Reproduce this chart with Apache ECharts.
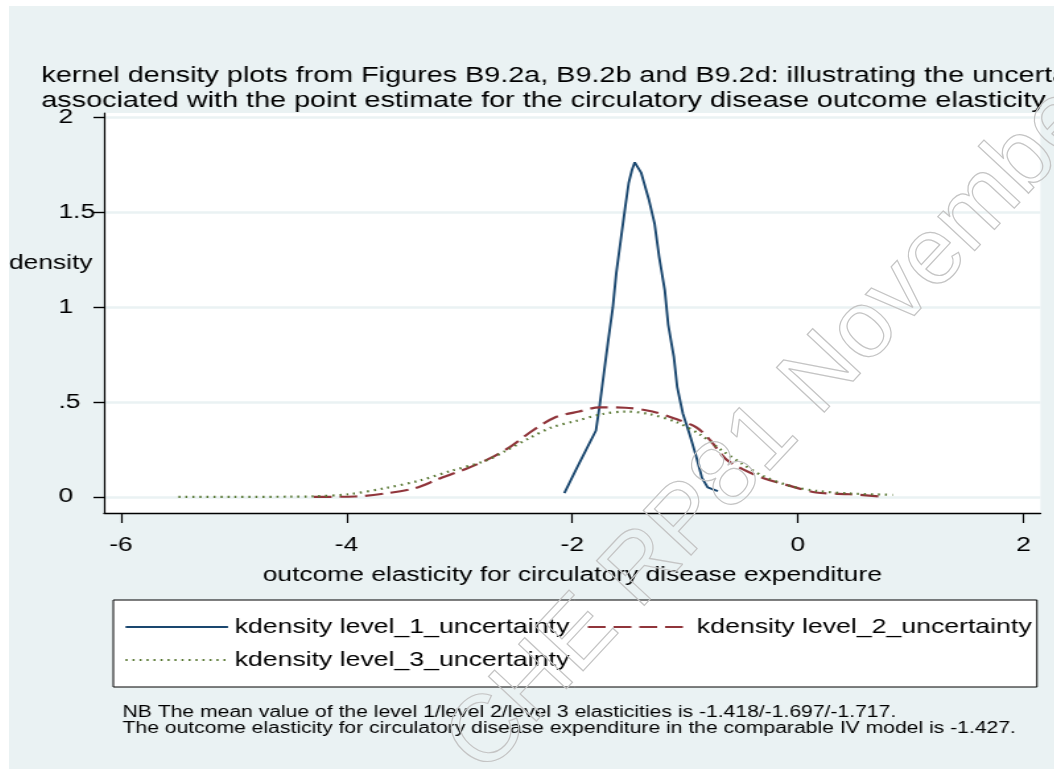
<!DOCTYPE html>
<html>
<head>
<meta charset="utf-8">
<script src="https://cdn.jsdelivr.net/npm/echarts@6/dist/echarts.min.js"></script>
<style>
html, body { margin: 0; padding: 0; background: #fff; overflow: hidden; }
/* the source figure is a Stata graph stretched sideways, so draw narrow and widen */
#chart { position: absolute; left: 9px; top: 6px; width: 792px; height: 763px;
         transform: scaleX(1.32); transform-origin: 0 0; }
#mark { position: absolute; left: 0; top: 0; width: 1054px; height: 769px; pointer-events: none; }
</style>
</head>
<body>
<div id="chart"></div>
<div id="mark"></div>
<script>
// kernel density curves: [elasticity, density]
var level1 = [
    [-2.07, 0.02], [-1.97, 0.14], [-1.88, 0.245], [-1.79, 0.35], [-1.76, 0.47],
    [-1.72, 0.65], [-1.68, 0.83], [-1.64, 1.00], [-1.61, 1.18], [-1.57, 1.355],
    [-1.53, 1.53], [-1.50, 1.655], [-1.47, 1.725], [-1.446, 1.764], [-1.39, 1.71],
    [-1.32, 1.565], [-1.27, 1.44], [-1.23, 1.265], [-1.18, 1.09], [-1.15, 0.91],
    [-1.10, 0.74], [-1.07, 0.58], [-1.02, 0.44], [-0.96, 0.33], [-0.90, 0.21],
    [-0.85, 0.10], [-0.80, 0.05], [-0.71, 0.03]
];
var level2 = [
    [-4.29, 0.0], [-3.93, 0.002], [-3.66, 0.018], [-3.39, 0.046], [-3.19, 0.093],
    [-2.95, 0.146], [-2.74, 0.20], [-2.56, 0.26], [-2.35, 0.35], [-2.15, 0.42],
    [-1.94, 0.45], [-1.76, 0.472], [-1.53, 0.47], [-1.29, 0.45], [-1.08, 0.41],
    [-0.90, 0.367], [-0.78, 0.30], [-0.64, 0.20], [-0.49, 0.146], [-0.31, 0.10],
    [-0.07, 0.058], [0.16, 0.023], [0.46, 0.014], [0.73, 0.002]
];
var level3 = [
    [-5.49, 0.0], [-5.0, 0.0], [-4.5, 0.001], [-4.28, 0.003], [-3.98, 0.014],
    [-3.66, 0.046], [-3.36, 0.085], [-3.07, 0.138], [-2.77, 0.19], [-2.59, 0.243],
    [-2.38, 0.31], [-2.18, 0.367], [-1.97, 0.40], [-1.73, 0.437], [-1.53, 0.45],
    [-1.32, 0.437], [-1.08, 0.395], [-0.87, 0.33], [-0.67, 0.243], [-0.49, 0.173],
    [-0.31, 0.11], [-0.07, 0.058], [0.16, 0.032], [0.46, 0.018], [0.84, 0.011]
];
var seriesNames = ['kdensity level_1_uncertainty', 'kdensity level_2_uncertainty', 'kdensity level_3_uncertainty'];
var xTicks = [-6, -4, -2, 0, 2];
var yTicks = [0, 0.5, 1, 1.5, 2];
var titleLines = [
    'kernel density plots from Figures B9.2a, B9.2b and B9.2d: illustrating the uncertainty',
    'associated with the point estimate for the circulatory disease outcome elasticity'
];
var noteLines = [
    'NB The mean value of the level 1/level 2/level 3 elasticities is -1.418/-1.697/-1.717.',
    'The outcome elasticity for circulatory disease expenditure in the comparable IV model is -1.427.'
];

var font = 'Liberation Sans, Arial, sans-serif';
var myChart = echarts.init(document.getElementById('chart'));
option = {
    animation: false,
    backgroundColor: '#eaf2f3',
    textStyle: { fontFamily: font, color: '#000' },
    title: [
        {
            text: titleLines.join('\n'),
            left: 19.5, top: 52,
            textStyle: { fontSize: 21.8, fontWeight: 'normal', color: '#000', lineHeight: 25, fontFamily: font }
        },
        {
            text: noteLines.join('\n'),
            left: 81, top: 694,
            textStyle: { fontSize: 16, fontWeight: 'normal', color: '#000', lineHeight: 16, fontFamily: font }
        }
    ],
    grid: {
        left: 72, right: 10.6, top: 107, bottom: 256,
        show: true, backgroundColor: '#fff', borderWidth: 0
    },
    legend: {
        data: seriesNames,
        left: 79, top: 594, width: 720,
        itemWidth: 77.6, itemHeight: 12, itemGap: 13,
        padding: [17, 4, 17, 8.3],
        backgroundColor: '#fff', borderColor: '#000', borderWidth: 1, borderRadius: 0,
        itemStyle: { opacity: 0 },
        textStyle: { fontSize: 20.2, color: '#000', fontFamily: font }
    },
    xAxis: {
        type: 'value', min: -6.15, max: 2.15,
        name: 'outcome elasticity for circulatory disease expenditure',
        nameLocation: 'middle', nameGap: 52,
        nameTextStyle: { fontSize: 20, color: '#000', fontFamily: font },
        axisLine: { show: true, onZero: false, lineStyle: { color: '#000', width: 1.4 } },
        axisTick: { show: true, length: 10, customValues: xTicks, lineStyle: { color: '#000', width: 1.2 } },
        axisLabel: { customValues: xTicks, fontSize: 20, margin: 22, color: '#000', fontFamily: font },
        splitLine: { show: false }
    },
    yAxis: {
        type: 'value', min: -0.085, max: 2.024,
        axisLine: { show: true, onZero: false, lineStyle: { color: '#000', width: 1.2 } },
        axisTick: { show: true, length: 8, customValues: yTicks, lineStyle: { color: '#000', width: 1.4 } },
        axisLabel: {
            customValues: yTicks, fontSize: 20, margin: 34.5, align: 'left', color: '#000', fontFamily: font,
            formatter: function (v) { return String(v).replace(/^0\./, '.'); }
        },
        splitLine: { show: true, lineStyle: { color: '#eaf2f3', width: 2.5 } }
    },
    graphic: [
        {
            type: 'text', x: 0, y: 257,
            style: { text: 'density', font: '20px ' + font, fill: '#000', textVerticalAlign: 'middle' }
        }
    ],
    series: [
        {
            name: seriesNames[0], type: 'line', data: level1, symbol: 'none',
            lineStyle: { color: '#1a476f', width: 1.9 }, itemStyle: { color: '#1a476f' }
        },
        {
            name: seriesNames[1], type: 'line', data: level2, symbol: 'none', smooth: 0.3,
            lineStyle: { color: '#90353b', width: 2.2, type: [13.5, 6] }, itemStyle: { color: '#90353b' }
        },
        {
            name: seriesNames[2], type: 'line', data: level3, symbol: 'none', smooth: 0.3,
            lineStyle: { color: '#55752f', width: 2.2, type: [1.5, 3.8] }, itemStyle: { color: '#55752f' }
        }
    ]
};
myChart.setOption(option);

// faint outlined watermark laid over the whole page
var markChart = echarts.init(document.getElementById('mark'));
markChart.setOption({
    animation: false,
    graphic: [{
        type: 'text', x: 465, y: 759, rotation: 47 * Math.PI / 180, silent: true,
        style: {
            text: 'CHE RP81 November 2012', font: '95px ' + font,
            fill: 'none', stroke: '#c4c4c4', lineWidth: 1.2, textVerticalAlign: 'middle'
        }
    }]
});
</script>
</body>
</html>
